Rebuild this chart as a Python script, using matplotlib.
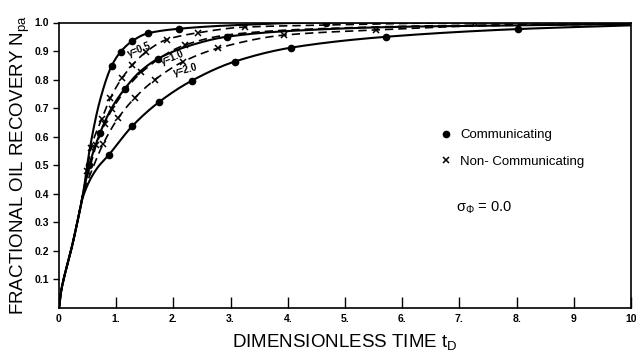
import matplotlib
matplotlib.use("Agg")
import matplotlib.pyplot as plt
from matplotlib.lines import Line2D
import numpy as np

plt.rcParams['font.family'] = ['Liberation Sans', 'DejaVu Sans']
plt.rcParams['mathtext.default'] = 'regular'

# ---- data ----
# Communicating (solid lines, dot markers)
comm_05_x = [0, 0.03, 0.08, 0.15, 0.22, 0.32, 0.42, 0.54, 0.72, 0.92, 1.08, 1.28, 1.55, 2.09, 3.0, 4.67, 10]
comm_05_y = [0, 0.05, 0.10, 0.155, 0.21, 0.30, 0.40, 0.56, 0.73, 0.848, 0.898, 0.935, 0.962, 0.978, 0.99, 1.0, 1.0]
comm_05_mx = [0.92, 1.08, 1.28, 1.55, 2.09, 4.67]
comm_05_my = [0.848, 0.898, 0.935, 0.962, 0.978, 1.0]

comm_10_x = [0, 0.03, 0.08, 0.15, 0.22, 0.32, 0.42, 0.53, 0.72, 0.92, 1.15, 1.40, 1.73, 2.3, 2.93, 4.0, 6.0, 8.0, 10]
comm_10_y = [0, 0.05, 0.10, 0.155, 0.21, 0.30, 0.40, 0.50, 0.614, 0.70, 0.768, 0.825, 0.873, 0.92, 0.950, 0.970, 0.985, 0.99, 0.995]
comm_10_mx = [0.53, 0.72, 1.15, 1.73, 2.93]
comm_10_my = [0.50, 0.614, 0.768, 0.873, 0.950]

comm_20_x = [0, 0.03, 0.08, 0.15, 0.22, 0.32, 0.42, 0.65, 0.87, 1.28, 1.74, 2.32, 3.07, 4.06, 5.72, 8.02, 10]
comm_20_y = [0, 0.05, 0.10, 0.155, 0.21, 0.30, 0.39, 0.485, 0.536, 0.637, 0.720, 0.796, 0.863, 0.912, 0.950, 0.977, 0.99]
comm_20_mx = [0.87, 1.28, 1.74, 2.32, 3.07, 4.06, 5.72, 8.02]
comm_20_my = [0.536, 0.637, 0.720, 0.796, 0.863, 0.912, 0.950, 0.977]

# Non-communicating (dashed lines, x markers)
nonc_05_x = [0, 0.03, 0.08, 0.15, 0.22, 0.32, 0.42, 0.49, 0.56, 0.745, 0.90, 1.10, 1.28, 1.52, 1.88, 2.43, 3.25, 5.0, 7.28, 10]
nonc_05_y = [0, 0.05, 0.10, 0.155, 0.21, 0.30, 0.40, 0.48, 0.56, 0.661, 0.736, 0.805, 0.850, 0.897, 0.940, 0.964, 0.984, 0.992, 1.0, 1.0]
nonc_05_mx = [0.49, 0.56, 0.745, 0.90, 1.10, 1.28, 1.52, 1.88, 2.43, 3.25, 7.28]
nonc_05_my = [0.48, 0.56, 0.661, 0.736, 0.805, 0.850, 0.897, 0.940, 0.964, 0.984, 1.0]

nonc_10_x = [0, 0.03, 0.08, 0.15, 0.22, 0.32, 0.42, 0.55, 0.65, 0.80, 0.93, 1.44, 2.20, 3.0, 4.5, 7.0, 10]
nonc_10_y = [0, 0.05, 0.10, 0.155, 0.21, 0.30, 0.40, 0.50, 0.57, 0.645, 0.696, 0.825, 0.921, 0.958, 0.978, 0.99, 0.995]
nonc_10_mx = [0.65, 0.80, 0.93, 1.44, 2.20]
nonc_10_my = [0.57, 0.645, 0.696, 0.825, 0.921]

nonc_20_x = [0, 0.03, 0.08, 0.15, 0.22, 0.32, 0.42, 0.55, 0.77, 1.03, 1.33, 1.68, 2.17, 2.78, 3.94, 5.54, 7.3, 10]
nonc_20_y = [0, 0.05, 0.10, 0.155, 0.21, 0.30, 0.40, 0.47, 0.574, 0.664, 0.737, 0.80, 0.863, 0.910, 0.956, 0.974, 0.988, 0.995]
nonc_20_mx = [0.77, 1.03, 1.33, 1.68, 2.17, 2.78, 3.94, 5.54]
nonc_20_my = [0.574, 0.664, 0.737, 0.80, 0.863, 0.910, 0.956, 0.974]

x_ticks = [0, 1, 2, 3, 4, 5, 6, 7, 8, 9, 10]
x_tick_labels = ["0", "1.", "2.", "3.", "4.", "5.", "6.", "7.", "8.", "9", "10"]
y_ticks = [0.1, 0.2, 0.3, 0.4, 0.5, 0.6, 0.7, 0.8, 0.9, 1.0]
y_tick_labels = ["0.1", "0.2", "0.3", "0.4", "0.5", "0.6", "0.7", "0.8", "0.9", "1.0"]


def smooth_path(xs, ys, n=30):
    """Monotone cubic (Fritsch-Carlson) path through the read points, for drawing only."""
    x = np.asarray(xs, float)
    y = np.asarray(ys, float)
    h = np.diff(x)
    d = np.diff(y) / h
    m = np.zeros_like(x)
    m[0], m[-1] = d[0], d[-1]
    for i in range(1, len(x) - 1):
        if d[i - 1] * d[i] <= 0:
            m[i] = 0
        else:
            w1 = 2 * h[i] + h[i - 1]
            w2 = h[i] + 2 * h[i - 1]
            m[i] = (w1 + w2) / (w1 / d[i - 1] + w2 / d[i])
    px, py = [], []
    for i in range(len(x) - 1):
        t = np.linspace(0, 1, n, endpoint=False)
        h00 = 2 * t**3 - 3 * t**2 + 1
        h10 = t**3 - 2 * t**2 + t
        h01 = -2 * t**3 + 3 * t**2
        h11 = t**3 - t**2
        px.append(x[i] + t * h[i])
        py.append(h00 * y[i] + h10 * h[i] * m[i] + h01 * y[i + 1] + h11 * h[i] * m[i + 1])
    px.append([x[-1]])
    py.append([y[-1]])
    return np.concatenate(px), np.concatenate(py)


# ---- figure ----
fig = plt.figure(figsize=(6.36, 3.56), dpi=100)
ax = fig.add_axes([59/636, 1-308/356, (631-59)/636, (308-22.5)/356])

k = 'black'
solid_kw = dict(color=k, lw=1.5, solid_capstyle='round')
dash_kw = dict(color=k, lw=1.2, linestyle=(0, (5, 3)))
dot_kw = dict(color=k, marker='o', ms=4.5, linestyle='none')
x_kw = dict(color=k, marker='x', ms=4, mew=1.1, linestyle='none')

for lx, ly, mx, my in [(comm_05_x, comm_05_y, comm_05_mx, comm_05_my),
                       (comm_10_x, comm_10_y, comm_10_mx, comm_10_my),
                       (comm_20_x, comm_20_y, comm_20_mx, comm_20_my)]:
    sx, sy = smooth_path(lx, ly)
    ax.plot(sx, sy, **solid_kw)
    ax.plot(mx, my, **dot_kw)

for lx, ly, mx, my in [(nonc_05_x, nonc_05_y, nonc_05_mx, nonc_05_my),
                       (nonc_10_x, nonc_10_y, nonc_10_mx, nonc_10_my),
                       (nonc_20_x, nonc_20_y, nonc_20_mx, nonc_20_my)]:
    sx, sy = smooth_path(lx, ly)
    ax.plot(sx, sy, **dash_kw)
    ax.plot(mx, my, **x_kw)

ax.set_xlim(0, 10)
ax.set_ylim(0, 1.0)
ax.set_xticks(x_ticks)
ax.set_xticklabels(x_tick_labels, fontsize=7.5, fontweight='bold')
ax.set_yticks(y_ticks)
ax.set_yticklabels(y_tick_labels, fontsize=7.5, fontweight='bold')
ax.tick_params(axis='x', direction='in', length=8, width=1, pad=4)
ax.tick_params(axis='y', direction='out', length=4, width=1, pad=3)
for s in ax.spines.values():
    s.set_linewidth(1.2)

ax.set_xlabel("DIMENSIONLESS TIME t$_D$", fontsize=13.5, labelpad=6)
ax.set_ylabel("FRACTIONAL OIL RECOVERY N$_{pa}$", fontsize=13.5, labelpad=2)

# curve labels
ax.text(1.18, 0.905, "γ=0.5", fontsize=7, fontweight='bold', rotation=22, ha='left', va='center')
ax.text(1.76, 0.878, "γ=1.0", fontsize=7, fontweight='bold', rotation=22, ha='left', va='center')
ax.text(1.98, 0.832, "γ=2.0", fontsize=7, fontweight='bold', rotation=15, ha='left', va='center')

handles = [Line2D([], [], **dot_kw), Line2D([], [], **x_kw)]
ax.legend(handles, ["Communicating", "Non- Communicating"], loc='upper left',
          bbox_to_anchor=(0.66, 0.645), frameon=False, fontsize=9.5,
          handlelength=0.6, handletextpad=0.8, labelspacing=1.1, borderaxespad=0)

ax.text(0.694, 0.35, "σ$_Φ$ = 0.0", transform=ax.transAxes, fontsize=10.5, ha='left', va='center')

fig.savefig("out.png", dpi=100)
